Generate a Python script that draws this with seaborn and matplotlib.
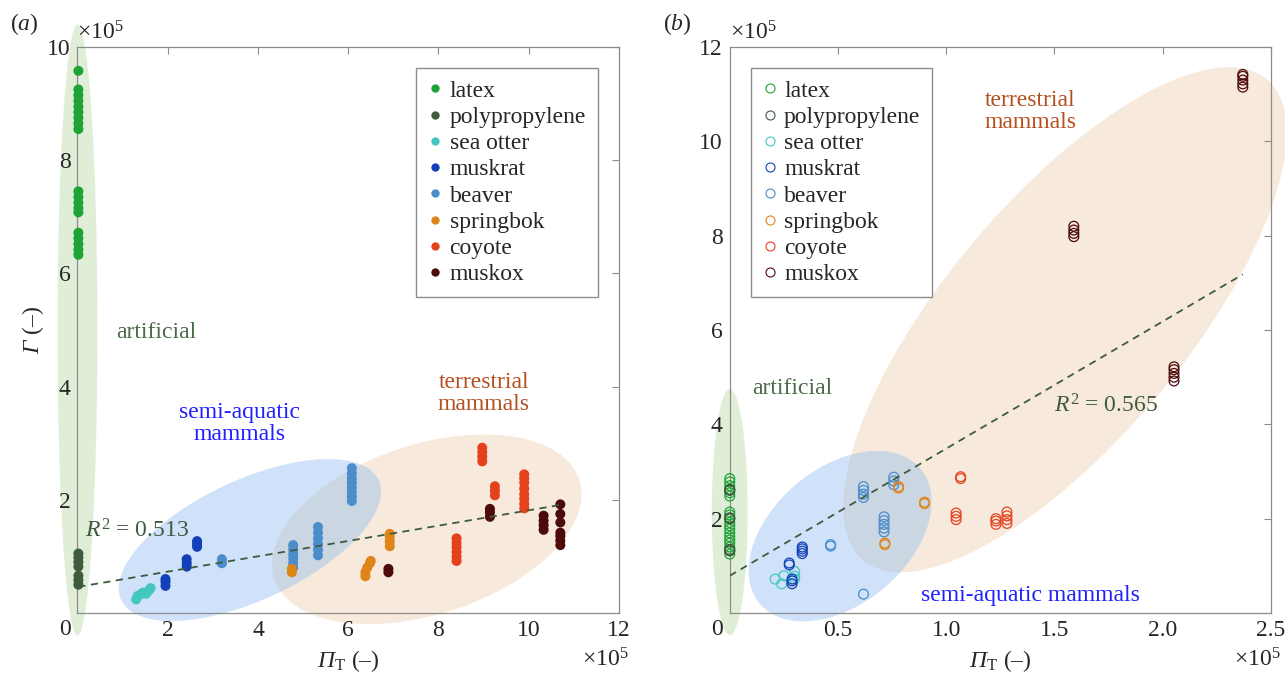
import numpy as np
import pandas as pd
import matplotlib
matplotlib.use("Agg")
import matplotlib.pyplot as plt
import seaborn as sns
from matplotlib.patches import Ellipse
from matplotlib.lines import Line2D
from matplotlib.transforms import ScaledTranslation

# ---- data (units of 1e5) ----
species = ["latex", "polypropylene", "sea otter", "muskrat", "beaver", "springbok", "coyote", "muskox"]
colors = ["#1ea337", "#3e5b3e", "#45c7c0", "#1240b8", "#4a8dca", "#df8417", "#e6411d", "#4d0a0a"]

# panel (a): Gamma vs Pi_T
latex_a_x = [0.02] * 19
latex_a_y = [9.58, 9.25, 9.15, 9.05, 8.95, 8.85, 8.75, 8.65, 8.55,
             7.45, 7.35, 7.25, 7.15, 7.08, 6.72, 6.62, 6.52, 6.42, 6.33]
polyp_a_x = [0.02] * 7
polyp_a_y = [1.05, 0.98, 0.9, 0.82, 0.66, 0.58, 0.5]
otter_a_x = [1.30, 1.33, 1.40, 1.45, 1.52, 1.58, 1.62]
otter_a_y = [0.24, 0.30, 0.33, 0.36, 0.34, 0.40, 0.44]
muskrat_a_x = [1.95, 1.95, 1.95, 2.42, 2.42, 2.42, 2.65, 2.65, 2.65]
muskrat_a_y = [0.48, 0.55, 0.60, 0.82, 0.88, 0.95, 1.17, 1.22, 1.27]
beaver_a_x = [3.2, 3.2, 4.78, 4.78, 4.78, 4.78, 4.78, 4.78,
              5.33, 5.33, 5.33, 5.33, 5.33, 5.33,
              6.08, 6.08, 6.08, 6.08, 6.08, 6.08, 6.08, 6.08]
beaver_a_y = [0.88, 0.95, 0.80, 0.88, 0.96, 1.04, 1.12, 1.20,
              1.02, 1.12, 1.22, 1.32, 1.42, 1.52,
              1.98, 2.06, 2.14, 2.22, 2.30, 2.38, 2.47, 2.56]
spring_a_x = [4.75, 4.75, 6.38, 6.38, 6.42, 6.48, 6.50, 6.92, 6.92, 6.92, 6.92]
spring_a_y = [0.72, 0.78, 0.65, 0.72, 0.80, 0.88, 0.92, 1.18, 1.26, 1.34, 1.40]
coyote_a_x = [8.97, 8.97, 8.97, 8.97, 9.25, 9.25, 9.25,
              9.9, 9.9, 9.9, 9.9, 9.9, 9.9, 9.9, 9.9,
              8.4, 8.4, 8.4, 8.4, 8.4, 8.4]
coyote_a_y = [2.68, 2.76, 2.84, 2.92, 2.08, 2.16, 2.24,
              1.85, 1.93, 2.02, 2.10, 2.20, 2.30, 2.38, 2.45,
              0.92, 1.00, 1.08, 1.16, 1.24, 1.32]
muskox_a_x = [6.89, 6.89, 9.14, 9.14, 9.14, 10.33, 10.33, 10.33, 10.33,
              10.7, 10.7, 10.7, 10.7, 10.7, 10.7, 10.7]
muskox_a_y = [0.72, 0.78, 1.70, 1.78, 1.84, 1.47, 1.55, 1.63, 1.72,
              1.20, 1.28, 1.36, 1.42, 1.60, 1.75, 1.92]

# panel (b)
latex_b_x = [0.0] * 19
latex_b_y = [2.85, 2.78, 2.70, 2.62, 2.55, 2.48, 2.14, 2.08, 2.00, 1.92,
             1.85, 1.78, 1.70, 1.62, 1.55, 1.48, 1.40, 1.32, 1.25]
polyp_b_x = [0.0] * 6
polyp_b_y = [2.62, 2.60, 2.02, 2.00, 1.35, 1.32]
otter_b_x = [0.21, 0.24, 0.25, 0.30, 0.30, 0.30]
otter_b_y = [0.72, 0.62, 0.79, 0.88, 0.78, 0.72]
muskrat_b_x = [0.275, 0.275, 0.288, 0.288, 0.288, 0.335, 0.335, 0.335, 0.335]
muskrat_b_y = [1.02, 1.06, 0.62, 0.68, 0.72, 1.26, 1.31, 1.36, 1.40]
beaver_b_x = [0.466, 0.466, 0.618, 0.618, 0.618, 0.618, 0.618,
              0.713, 0.713, 0.713, 0.713, 0.713, 0.758, 0.758, 0.758]
beaver_b_y = [1.42, 1.45, 0.40, 2.45, 2.52, 2.60, 2.68,
              1.72, 1.80, 1.88, 1.96, 2.04, 2.72, 2.80, 2.88]
spring_b_x = [0.78, 0.78, 0.90, 0.90, 0.717, 0.717]
spring_b_y = [2.65, 2.68, 2.32, 2.35, 1.45, 1.48]
coyote_b_x = [1.067, 1.067, 1.046, 1.046, 1.046, 1.23, 1.23, 1.23,
              1.281, 1.281, 1.281, 1.281]
coyote_b_y = [2.85, 2.89, 1.98, 2.05, 2.12, 1.88, 1.95, 2.00,
              1.90, 1.98, 2.06, 2.14]
muskox_b_x = [1.59, 1.59, 1.59, 1.59, 2.053, 2.053, 2.053, 2.053, 2.053,
              2.371, 2.371, 2.371, 2.371, 2.371]
muskox_b_y = [7.98, 8.05, 8.12, 8.20, 4.92, 5.00, 5.08, 5.16, 5.22,
              11.15, 11.22, 11.30, 11.38, 11.42]

# linear fits (intercept, slope) and their x extent
fit_a = (0.46, 0.1355)
fit_a_x = [0.02, 10.7]
fit_b = (0.79, 2.695)
fit_b_x = [0.0, 2.371]

xticks_a = [2, 4, 6, 8, 10, 12]
yticks_a = [2, 4, 6, 8, 10]
xticks_b = [0.5, 1.0, 1.5, 2.0, 2.5]
xticklabels_b = ["0.5", "1.0", "1.5", "2.0", "2.5"]
yticks_b = [2, 4, 6, 8, 10, 12]


def frame(xs, ys):
    rows = []
    for sp, x, y in zip(species, xs, ys):
        rows.append(pd.DataFrame({"Pi": x, "Gamma": y, "species": sp}))
    return pd.concat(rows, ignore_index=True)


df_a = frame([latex_a_x, polyp_a_x, otter_a_x, muskrat_a_x, beaver_a_x, spring_a_x, coyote_a_x, muskox_a_x],
             [latex_a_y, polyp_a_y, otter_a_y, muskrat_a_y, beaver_a_y, spring_a_y, coyote_a_y, muskox_a_y])
df_b = frame([latex_b_x, polyp_b_x, otter_b_x, muskrat_b_x, beaver_b_x, spring_b_x, coyote_b_x, muskox_b_x],
             [latex_b_y, polyp_b_y, otter_b_y, muskrat_b_y, beaver_b_y, spring_b_y, coyote_b_y, muskox_b_y])

# ---- style ----
sns.set_style("white")
plt.rcParams["font.family"] = ["Liberation Serif", "DejaVu Serif"]
plt.rcParams["mathtext.fontset"] = "custom"
plt.rcParams["mathtext.rm"] = "Liberation Serif"
plt.rcParams["mathtext.it"] = "Liberation Serif:italic"
plt.rcParams["mathtext.bf"] = "Liberation Serif:bold"
plt.rcParams["mathtext.sf"] = "Liberation Serif:italic"   # used for italic Greek capitals
FS = 17
palette = dict(zip(species, colors))

fig = plt.figure(figsize=(12.85, 6.77), dpi=100)
ax_a = fig.add_axes([0.0603, 0.0945, 0.4214, 0.836])
ax_b = fig.add_axes([0.5679, 0.0945, 0.4210, 0.836])


def blob(ax, x, y, w, h, ang, color, alpha):
    # centre in data units, size in pixels
    e = Ellipse((0, 0), w / 100, h / 100, angle=ang,
                transform=fig.dpi_scale_trans + ScaledTranslation(x, y, ax.transData),
                fc=color, ec="none", alpha=alpha, clip_on=False, zorder=0.5)
    ax.add_patch(e)


def style_axes(ax, xlim, ylim, xt, xtl, yt):
    ax.set_xlim(*xlim)
    ax.set_ylim(*ylim)
    ax.set_xticks(xt)
    ax.set_xticklabels(xtl)
    ax.set_yticks(yt)
    ax.set_yticklabels([str(v) for v in yt])
    ax.tick_params(direction="in", top=True, right=True, length=5, width=0.8,
                   color="#8c8c8c", labelsize=FS, pad=5)
    for s in ax.spines.values():
        s.set_color("#8c8c8c")
        s.set_linewidth(0.9)
    ax.set_xlabel(r"$\mathsf{\Pi}_{\mathrm{T}}$ (–)", fontsize=FS)
    ax.xaxis.set_label_coords(0.5, -0.085)
    ax.xaxis.label.set_va("center")
    ax.set_ylabel("")
    ax.annotate("0", xy=(0, 0), xycoords="axes fraction", xytext=(-9, -12),
                textcoords="offset points", ha="center", va="center", fontsize=FS)
    ax.text(0.0, 1.004, r"$\times 10^5$", transform=ax.transAxes, ha="left", va="bottom", fontsize=FS)
    ax.text(1.018, -0.083, r"$\times 10^5$", transform=ax.transAxes, ha="right", va="center", fontsize=FS)


leg_kw = dict(fontsize=FS, frameon=True, fancybox=False, edgecolor="#8c8c8c", framealpha=1,
              labelspacing=0.2, handlelength=0.6, handletextpad=0.3, borderpad=0.5,
              borderaxespad=0.9)

# ---- panel (a) ----
ax = ax_a
blob(ax, 0.0, 5.0, 40, 611, 0, "#a8d08d", 0.35)
blob(ax, 7.74, 1.48, 321, 170, 18, "#eac49c", 0.35)
blob(ax, 3.82, 1.29, 284, 120, 25, "#8ab8f0", 0.4)
sns.scatterplot(data=df_a, x="Pi", y="Gamma", hue="species", palette=palette, s=52,
                edgecolor="none", legend=False, ax=ax, clip_on=False, zorder=3)
xa = np.array(fit_a_x)
ax.plot(xa, fit_a[0] + fit_a[1] * xa, ls=(0, (4, 3)), color="#3e5b3e", lw=1.3, zorder=4)
style_axes(ax, (0, 12), (0, 10), xticks_a, [str(v) for v in xticks_a], yticks_a)
ax.set_ylabel(r"$\mathsf{\Gamma}$ (–)", fontsize=FS)
ax.yaxis.set_label_coords(-0.083, 0.5)
ax.yaxis.label.set_va("center")
ax.text(1.75, 4.96, "artificial", color="#4a6a48", fontsize=FS, ha="center", va="center")
ax.text(3.6, 3.35, "semi-aquatic\nmammals", color="#1f1fff", fontsize=FS, ha="center", va="center",
        linespacing=1.05)
ax.text(9.0, 3.88, "terrestrial\nmammals", color="#b5501e", fontsize=FS, ha="center", va="center",
        linespacing=1.05)
ax.text(0.17, 1.45, r"$R^2$ = 0.513", color="#3e5b3e", fontsize=FS, ha="left", va="center")
h_a = [Line2D([], [], marker="o", ls="", ms=6, mfc=c, mec="none") for c in colors]
ax.legend(h_a, species, loc="upper right", **leg_kw)

# ---- panel (b) ----
ax = ax_b
blob(ax, 0.0, 2.14, 36, 246, 0, "#a8d08d", 0.35)
blob(ax, 1.549, 6.22, 628, 240, 50, "#eac49c", 0.35)
blob(ax, 0.51, 1.63, 210, 136, 40, "#8ab8f0", 0.4)
sns.scatterplot(data=df_b, x="Pi", y="Gamma", hue="species", palette=palette, s=50,
                linewidth=0.9, legend=False, ax=ax, clip_on=False, zorder=3)
pts = ax.collections[-1]
pts.set_edgecolors(pts.get_facecolors())
pts.set_facecolors("none")
xb = np.array(fit_b_x)
ax.plot(xb, fit_b[0] + fit_b[1] * xb, ls=(0, (4, 3)), color="#3e5b3e", lw=1.3, zorder=4)
style_axes(ax, (0, 2.5), (0, 12), xticks_b, xticklabels_b, yticks_b)
ax.text(0.29, 4.76, "artificial", color="#4a6a48", fontsize=FS, ha="center", va="center")
ax.text(1.39, 10.64, "terrestrial\nmammals", color="#b5501e", fontsize=FS, ha="center", va="center",
        linespacing=1.05)
ax.text(1.39, 0.38, "semi-aquatic mammals", color="#1f1fff", fontsize=FS, ha="center", va="center")
ax.text(1.50, 4.4, r"$R^2$ = 0.565", color="#3e5b3e", fontsize=FS, ha="left", va="center")
h_b = [Line2D([], [], marker="o", ls="", ms=6.5, mfc="none", mec=c, mew=0.8) for c in colors]
ax.legend(h_b, species, loc="upper left", **leg_kw)

fig.text(0.008, 0.965, r"$(a)$", fontsize=FS, ha="left", va="center")
fig.text(0.516, 0.965, r"$(b)$", fontsize=FS, ha="left", va="center")

fig.savefig("out.png", dpi=100)
